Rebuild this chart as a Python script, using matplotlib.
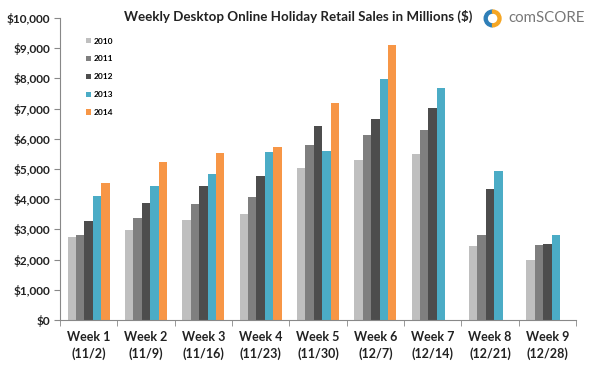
import numpy as np
import matplotlib
matplotlib.use("Agg")
import matplotlib.pyplot as plt
from matplotlib.patches import Wedge

weeks = ["Week 1\n(11/2)", "Week 2\n(11/9)", "Week 3\n(11/16)", "Week 4\n(11/23)",
         "Week 5\n(11/30)", "Week 6\n(12/7)", "Week 7\n(12/14)", "Week 8\n(12/21)",
         "Week 9\n(12/28)"]
years = ["2010", "2011", "2012", "2013", "2014"]
sales_2010 = [2750, 2990, 3300, 3520, 5020, 5300, 5490, 2450, 1990]
sales_2011 = [2800, 3390, 3830, 4080, 5800, 6110, 6280, 2830, 2490]
sales_2012 = [3270, 3890, 4450, 4760, 6430, 6640, 7020, 4330, 2510]
sales_2013 = [4100, 4430, 4830, 5550, 5610, 7970, 7680, 4920, 2800]
sales_2014 = [4520, 5230, 5520, 5720, 7190, 9110, np.nan, np.nan, np.nan]
series = [sales_2010, sales_2011, sales_2012, sales_2013, sales_2014]
colors = ["#BFBFBF", "#7F7F7F", "#4D4D4D", "#4BACC6", "#F79646"]

plt.rcParams["font.family"] = ["Lato", "DejaVu Sans"]

fig = plt.figure(figsize=(6.0, 3.69), dpi=100)
ax = fig.add_axes([0.10, 0.133, 0.86, 0.818])

x = np.arange(len(weeks))
w = 0.146
for i, (yr, vals, c) in enumerate(zip(years, series, colors)):
    ax.bar(x + (i - 2) * w, vals, width=w, color=c, label=yr, edgecolor="none")

ax.set_xlim(-0.5, len(weeks) - 0.5)
ax.set_ylim(0, 10000)
ax.set_yticks(np.arange(0, 10001, 1000))
ax.set_yticklabels([f"${v:,}" for v in range(0, 10001, 1000)],
                   fontsize=8.5, fontweight="bold", color="#222222")
ax.set_xticks(x)
ax.set_xticklabels(weeks, fontsize=9, fontweight="bold", color="#222222",
                   linespacing=1.45)
ax.tick_params(axis="x", length=0, pad=8)
ax.set_xticks(np.arange(-0.5, len(weeks), 1), minor=True)
ax.tick_params(axis="x", which="minor", length=4, color="#888888")
ax.tick_params(axis="y", length=4, color="#888888", pad=3)
for s in ["top", "right"]:
    ax.spines[s].set_visible(False)
for s in ["left", "bottom"]:
    ax.spines[s].set_color("#888888")
    ax.spines[s].set_linewidth(0.8)

leg = ax.legend(loc="upper left", bbox_to_anchor=(0.035, 0.96), frameon=False,
                handlelength=0.6, handleheight=0.6, handletextpad=0.4,
                labelspacing=1.3, prop={"size": 6, "weight": "bold"})

fig.text(0.497, 0.955, "Weekly Desktop Online Holiday Retail Sales in Millions ($)",
         ha="center", va="center", fontsize=9.6, fontweight="bold", color="#222222")

# comScore mark
lax = fig.add_axes([0.805, 0.925, 0.032, 0.05])
lax.set_aspect("equal")
lax.axis("off")
lax.add_patch(Wedge((0, 0), 1, 90, 270, width=0.35, color="#2E7FB8"))
lax.add_patch(Wedge((0, 0), 1, 270, 90, width=0.35, color="#F5A623"))
lax.set_xlim(-1.1, 1.1)
lax.set_ylim(-1.1, 1.1)
fig.text(0.847, 0.951, "comSCORE", ha="left", va="center", fontsize=10.8,
         color="#777777")

fig.savefig("out.png", dpi=100, facecolor="white")
